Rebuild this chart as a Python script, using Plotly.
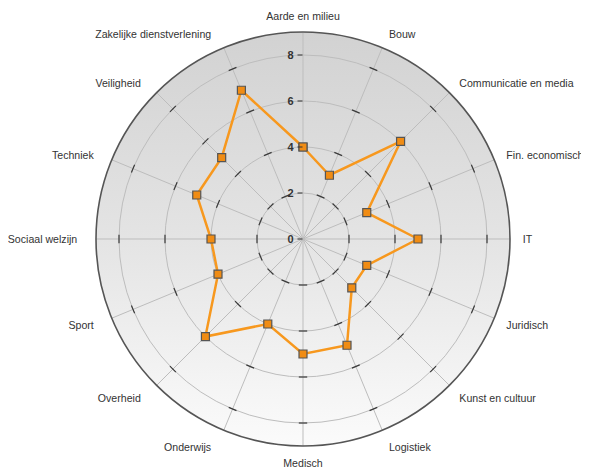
import plotly.graph_objects as go
import base64
import math

categories = ["Aarde en milieu", "Bouw", "Communicatie en media", "Fin. economisch", "IT",
              "Juridisch", "Kunst en cultuur", "Logistiek", "Medisch", "Onderwijs",
              "Overheid", "Sport", "Sociaal welzijn", "Techniek", "Veiligheid",
              "Zakelijke dienstverlening"]
values = [4, 3, 6, 3, 5, 3, 3, 5, 5, 4, 6, 4, 4, 5, 5, 7]
radial_ticks = [0, 2, 4, 6, 8]
radial_max = 9

W, H = 581, 464
cx, cy, R = 295, 231, 207

n = len(categories)
step = 360 / n

fig = go.Figure()

# background gradient disk
svg = f'''<svg xmlns="http://www.w3.org/2000/svg" width="{2*R}" height="{2*R}" viewBox="0 0 {2*R} {2*R}">
<defs><linearGradient id="g" x1="0" y1="0" x2="0" y2="1">
<stop offset="0" stop-color="#d2d2d2"/><stop offset="0.5" stop-color="#e4e4e4"/><stop offset="1" stop-color="#fbfbfb"/>
</linearGradient></defs>
<circle cx="{R}" cy="{R}" r="{R}" fill="url(#g)"/></svg>'''
src = "data:image/svg+xml;base64," + base64.b64encode(svg.encode()).decode()
fig.add_layout_image(dict(source=src, xref="paper", yref="paper",
                          x=(cx - R) / W, y=1 - (cy - R) / H,
                          sizex=2 * R / W, sizey=2 * R / H,
                          xanchor="left", yanchor="top", sizing="stretch", layer="below"))

# tangential tick marks on each spoke
tk_r, tk_t, tk_a = [], [], []
for i, c in enumerate(categories):
    for rv in radial_ticks[1:]:
        if i == 0:
            continue
        tk_r.append(rv)
        tk_t.append(c)
        tk_a.append(i * step)
fig.add_trace(go.Scatterpolar(r=tk_r, theta=tk_t, mode="markers", hoverinfo="skip",
                              marker=dict(symbol="line-ew", size=6, angle=tk_a,
                                          line=dict(color="#3a3a3a", width=1.2)),
                              showlegend=False))

fig.add_trace(go.Scatterpolar(
    r=values + [values[0]], theta=categories + [categories[0]],
    mode="lines+markers",
    line=dict(color="#f7981e", width=2.5),
    marker=dict(symbol="square", size=8, color="#f08c14",
                line=dict(color="#555555", width=1.2)),
    showlegend=False))

# pad side labels away from the circle
ticktext = []
for i, c in enumerate(categories):
    s = math.sin(math.radians(i * step))
    if s > 0.1:
        ticktext.append("\u00a0" + c)
    elif s < -0.1:
        ticktext.append(c + "\u00a0\u00a0\u00a0")
    else:
        ticktext.append(c)

fig.update_layout(
    width=W, height=H,
    paper_bgcolor="white",
    margin=dict(l=0, r=0, t=0, b=0),
    font=dict(family="Liberation Sans, Arial, sans-serif", size=10.6, color="#333333"),
    polar=dict(
        domain=dict(x=[(cx - R) / W, (cx + R) / W], y=[1 - (cy + R) / H, 1 - (cy - R) / H]),
        bgcolor="rgba(0,0,0,0)",
        angularaxis=dict(rotation=90, direction="clockwise",
                         categoryorder="array", categoryarray=categories,
                         tickmode="array", tickvals=categories, ticktext=ticktext,
                         showline=True, linecolor="#555555", linewidth=1.6,
                         gridcolor="#bdbdbd", gridwidth=1,
                         ticks="outside", ticklen=7, tickcolor="rgba(0,0,0,0)",
                         tickfont=dict(size=10.6, color="#333333")),
        radialaxis=dict(range=[0, radial_max], tickvals=radial_ticks, angle=90,
                        side="counterclockwise", tickangle=90,
                        showline=False, gridcolor="#bdbdbd", gridwidth=1,
                        ticks="outside", ticklen=5, tickcolor="#333333",
                        tickfont=dict(size=11, color="#333333", family="Liberation Sans, Arial, sans-serif", weight="bold")),
    ),
)

fig.write_html("out.html")
